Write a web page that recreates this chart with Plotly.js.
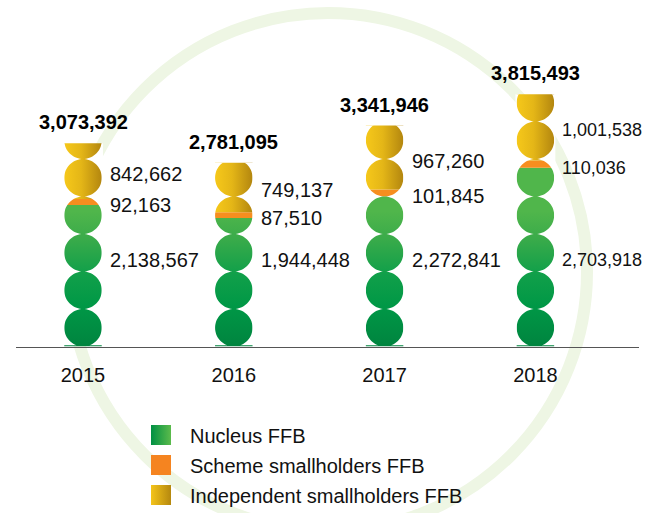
<!DOCTYPE html>
<html>
<head>
<meta charset="utf-8">
<script src="https://cdn.plot.ly/plotly-3.0.1.min.js"></script>
<style>html,body{margin:0;padding:0;background:#fff;}#chart{width:645px;height:513px;}</style>
</head>
<body>
<div id="chart"></div>
<script>
// ---- data ----
const years = ['2015', '2016', '2017', '2018'];
const nucleus = [2138567, 1944448, 2272841, 2703918];
const scheme = [92163, 87510, 101845, 110036];
const independent = [842662, 749137, 967260, 1001538];
const totals = [3073392, 2781095, 3341946, 3815493];
const seriesNames = ['Nucleus FFB', 'Scheme smallholders FFB', 'Independent smallholders FFB'];

// ---- geometry (layout) ----
const W = 645, H = 513;
const FONT = 'Liberation Sans, Arial, Helvetica, sans-serif';
const plotL = 16, plotR = 639, plotT = 20, plotB = 346.5;
const xRange = [-0.4443, 3.687];
const yPerPx = 15125;
const yRange = [0, (plotB - plotT) * yPerPx];
const circlePx = 37.5;
const xPerPx = (xRange[1] - xRange[0]) / (plotR - plotL);
const bw = circlePx * xPerPx;            // bar width in x units
const U = circlePx * yPerPx;             // circle height in value units
const fmt = v => v.toLocaleString('en-US');

function rect(c, lo, hi) {
  return { x: [c - bw / 2, c + bw / 2, c + bw / 2, c - bw / 2, c - bw / 2], y: [lo, lo, hi, hi, lo] };
}

const traces = [];
const greenScale = [[0, '#00843f'], [0.3, '#009846'], [0.55, '#12a04a'], [0.8, '#3aab4a'], [1, '#50b64b']];
const yellowScale = [[0, '#f6c81a'], [0.45, '#e4b617'], [1, '#b3860f']];
years.forEach((yr, i) => {
  const n = nucleus[i], s = scheme[i], ind = independent[i];
  const g = rect(i, 0, n);
  traces.push({ type: 'scatter', mode: 'lines', x: g.x, y: g.y, fill: 'toself', name: seriesNames[0],
    line: { width: 0, color: 'rgba(0,0,0,0)' }, hoverinfo: 'skip', showlegend: false,
    fillgradient: { type: 'vertical', start: 0, stop: 3.6 * U, colorscale: greenScale } });
  const o = rect(i, n, n + s);
  traces.push({ type: 'scatter', mode: 'lines', x: o.x, y: o.y, fill: 'toself', name: seriesNames[1],
    line: { width: 0, color: 'rgba(0,0,0,0)' }, fillcolor: '#f68e1f', hoverinfo: 'skip', showlegend: false });
  const yl = rect(i, n + s, n + s + ind);
  traces.push({ type: 'scatter', mode: 'lines', x: yl.x, y: yl.y, fill: 'toself', name: seriesNames[2],
    line: { width: 0, color: 'rgba(0,0,0,0)' }, hoverinfo: 'skip', showlegend: false,
    fillgradient: { type: 'horizontal', colorscale: yellowScale } });
});

// legend swatches (pixel space subplot)
function pxSquare(x0, y0, sz) { return { x: [x0, x0 + sz, x0 + sz, x0, x0], y: [y0, y0, y0 + sz, y0 + sz, y0] }; }
const legendRows = [425, 455, 485];
const sq0 = pxSquare(151, legendRows[0], 20);
traces.push({ type: 'scatter', mode: 'lines', xaxis: 'x2', yaxis: 'y2', x: sq0.x, y: sq0.y, fill: 'toself',
  line: { width: 0, color: 'rgba(0,0,0,0)' }, hoverinfo: 'skip', showlegend: false,
  fillgradient: { type: 'horizontal', colorscale: [[0, '#009043'], [1, '#5cbb4c']] } });
const sq1 = pxSquare(151, legendRows[1], 20);
traces.push({ type: 'scatter', mode: 'lines', xaxis: 'x2', yaxis: 'y2', x: sq1.x, y: sq1.y, fill: 'toself',
  line: { width: 0, color: 'rgba(0,0,0,0)' }, fillcolor: '#f58420', hoverinfo: 'skip', showlegend: false });
const sq2 = pxSquare(151, legendRows[2], 20);
traces.push({ type: 'scatter', mode: 'lines', xaxis: 'x2', yaxis: 'y2', x: sq2.x, y: sq2.y, fill: 'toself',
  line: { width: 0, color: 'rgba(0,0,0,0)' }, hoverinfo: 'skip', showlegend: false,
  fillgradient: { type: 'horizontal', colorscale: [[0, '#f4c41a'], [1, '#b5880f']] } });

// ---- shapes: ring + circle masks ----
const shapes = [];
const ringCx = 328, ringCy = 272, ringR = 259;
shapes.push({ type: 'circle', xref: 'paper', yref: 'paper', layer: 'below',
  x0: (ringCx - ringR) / W, x1: (ringCx + ringR) / W, y0: 1 - (ringCy + ringR) / H, y1: 1 - (ringCy - ringR) / H,
  line: { color: '#eef6e4', width: 12 }, fillcolor: 'rgba(0,0,0,0)' });

years.forEach((yr, i) => {
  const top = nucleus[i] + scheme[i] + independent[i];
  const bottom = 1.2 * yPerPx;
  const eps = 1.2 * xPerPx;
  const x0 = i - bw / 2 - eps, x1 = i + bw / 2 + eps;
  let p = `M${x0},${bottom}L${x1},${bottom}L${x1},${top}L${x0},${top}Z`;
  const nC = Math.ceil(top / U);
  const rx = bw / 2, ry = U / 2;
  for (let k = 0; k < nC; k++) {
    const cy = (k + 0.5) * U;
    const pts = [];
    for (let j = 0; j < 72; j++) {
      const a = (j / 72) * Math.PI * 2;
      let yy = cy + ry * Math.sin(a);
      yy = Math.max(bottom, Math.min(top, yy));
      pts.push(`${i + rx * Math.cos(a)},${yy}`);
    }
    p += 'M' + pts.join('L') + 'Z';
  }
  shapes.push({ type: 'path', xref: 'x', yref: 'y', layer: 'above', path: p, fillrule: 'evenodd',
    fillcolor: '#ffffff', line: { width: 0 } });
});

// ---- annotations ----
const txtColor = '#111111';
const annotations = [];
years.forEach((yr, i) => {
  const n = nucleus[i], s = scheme[i], ind = independent[i];
  // the last column sits against the right edge, so its labels are set a little smaller
  const fs = i === years.length - 1 ? 18 : 20;
  annotations.push({ xref: 'x', yref: 'y', x: i, y: totals[i], text: '<b>' + fmt(totals[i]) + '</b>',
    showarrow: false, xanchor: 'center', yanchor: 'middle', yshift: 21,
    font: { family: FONT, size: 20, color: '#000' } });
  annotations.push({ xref: 'x', yref: 'y', x: i, y: n + s + ind / 2, text: fmt(ind), showarrow: false,
    xanchor: 'left', yanchor: 'middle', xshift: 25, yshift: -3, font: { family: FONT, size: fs, color: txtColor } });
  annotations.push({ xref: 'x', yref: 'y', x: i, y: n, text: fmt(s), showarrow: false,
    xanchor: 'left', yanchor: 'middle', xshift: 25, font: { family: FONT, size: fs, color: txtColor } });
  annotations.push({ xref: 'x', yref: 'y', x: i, y: 2.3 * U, text: fmt(n), showarrow: false,
    xanchor: 'left', yanchor: 'middle', xshift: 25, font: { family: FONT, size: fs, color: txtColor } });
});
seriesNames.forEach((nm, k) => {
  annotations.push({ xref: 'paper', yref: 'paper', x: 188 / W, y: 1 - (legendRows[k] + 11) / H, text: nm,
    showarrow: false, xanchor: 'left', yanchor: 'middle', font: { family: FONT, size: 20, color: txtColor } });
});

const layout = {
  width: W, height: H,
  margin: { l: 0, r: 0, t: 0, b: 0, pad: 0 },
  paper_bgcolor: '#ffffff', plot_bgcolor: 'rgba(0,0,0,0)',
  showlegend: false,
  xaxis: { domain: [plotL / W, plotR / W], range: xRange, tickmode: 'array', tickvals: years.map((y, i) => i),
    ticktext: years, showgrid: false, zeroline: false, showline: true, linecolor: '#555555', linewidth: 1.3,
    ticks: '', ticklabelstandoff: 10, tickfont: { family: FONT, size: 20, color: txtColor }, fixedrange: true },
  yaxis: { domain: [1 - plotB / H, 1 - plotT / H], range: yRange, visible: false, fixedrange: true },
  xaxis2: { domain: [0, 1], range: [0, W], anchor: 'y2', visible: false, fixedrange: true },
  yaxis2: { domain: [0, 1], range: [H, 0], anchor: 'x2', visible: false, fixedrange: true },
  shapes: shapes,
  annotations: annotations
};

Plotly.newPlot('chart', traces, layout, { displayModeBar: false, staticPlot: true });
</script>
</body>
</html>
